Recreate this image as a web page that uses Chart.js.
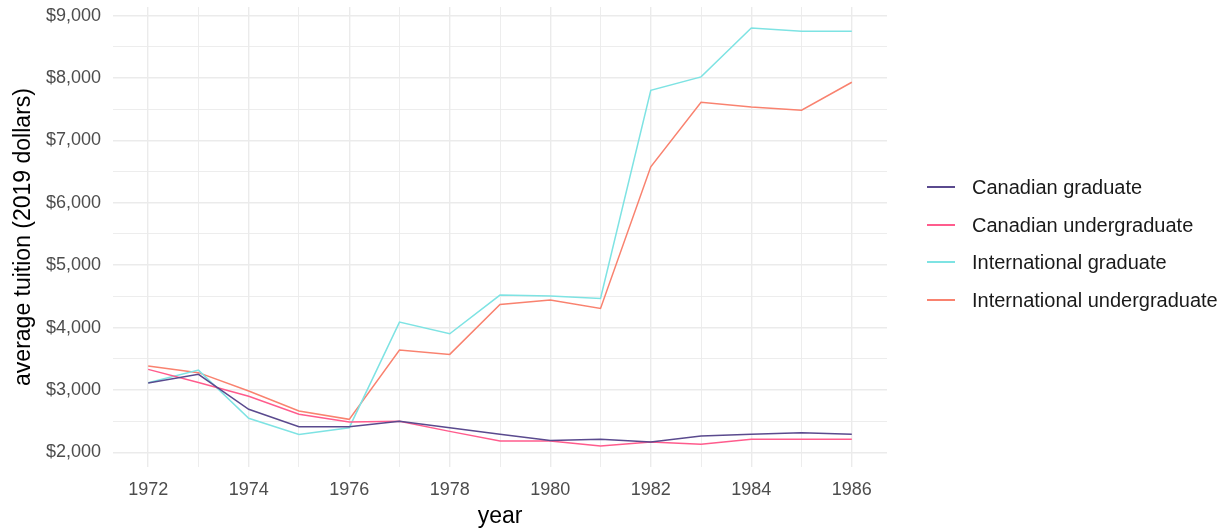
<!DOCTYPE html>
<html>
<head>
<meta charset="utf-8">
<script src="https://cdn.jsdelivr.net/npm/chart.js@4/dist/chart.umd.min.js"></script>
<style>
  html, body { margin: 0; padding: 0; background: #fff; }
  #wrap { position: relative; width: 1230px; height: 531px; }
  #legend { position: absolute; left: 927px; top: 168px; font-family: "Liberation Sans", Arial, sans-serif; font-size: 20px; color: #1a1a1a; }
  .item { position: relative; height: 37.7px; line-height: 38px; white-space: nowrap; }
  .key { position: absolute; left: 0; top: 18px; width: 28px; height: 2px; }
  .lbl { position: absolute; left: 45px; top: 0; }
</style>
</head>
<body>
<div id="wrap">
  <canvas id="c" width="1230" height="531"></canvas>
  <div id="legend"></div>
</div>
<script>
const years = [1972, 1973, 1974, 1975, 1976, 1977, 1978, 1979, 1980, 1981, 1982, 1983, 1984, 1985, 1986];
const seriesNames = ["Canadian graduate", "Canadian undergraduate", "International graduate", "International undergraduate"];
const canadianGraduate = [3110, 3250, 2690, 2410, 2410, 2500, 2395, 2290, 2190, 2210, 2165, 2260, 2290, 2315, 2290];
const canadianUndergraduate = [3330, 3120, 2900, 2610, 2486, 2500, 2336, 2181, 2181, 2101, 2165, 2128, 2208, 2208, 2208];
const internationalGraduate = [3116, 3318, 2545, 2288, 2395, 4087, 3901, 4520, 4504, 4467, 7803, 8018, 8803, 8749, 8749];
const internationalUndergraduate = [3382, 3277, 2982, 2662, 2529, 3639, 3570, 4371, 4440, 4307, 6576, 7611, 7537, 7483, 7932];
const seriesColors = ["#5a4a8e", "#ff5c8d", "#7ee3e3", "#f9826f"];
const xTickValues = [1972, 1974, 1976, 1978, 1980, 1982, 1984, 1986];
const xTickLabels = ["1972", "1974", "1976", "1978", "1980", "1982", "1984", "1986"];
const yTickValues = [2000, 3000, 4000, 5000, 6000, 7000, 8000, 9000];
const yTickLabels = ["$2,000", "$3,000", "$4,000", "$5,000", "$6,000", "$7,000", "$8,000", "$9,000"];

const allSeries = [canadianGraduate, canadianUndergraduate, internationalGraduate, internationalUndergraduate];
const datasets = allSeries.map((vals, i) => ({
  label: seriesNames[i],
  data: years.map((y, j) => ({ x: y, y: vals[j] })),
  borderColor: seriesColors[i],
  backgroundColor: seriesColors[i],
  borderWidth: 1.5,
  pointRadius: 0,
  tension: 0,
  fill: false
}));

// major ticks from the label arrays, minor grid lines halfway between them
function withMinor(major) {
  const out = [];
  const step = major[1] - major[0];
  out.push({ value: major[0] - step / 2, minor: true });
  major.forEach((v, i) => {
    out.push({ value: v, minor: false });
    out.push({ value: v + step / 2, minor: true });
  });
  return out;
}

const font = '"Liberation Sans", Arial, sans-serif';
const gridColor = '#ebebeb';

new Chart(document.getElementById('c'), {
  type: 'line',
  data: { datasets },
  options: {
    responsive: false,
    animation: false,
    devicePixelRatio: 1,
    layout: { padding: { top: 7, right: 343, left: 0, bottom: 0 } },
    plugins: { legend: { display: false }, tooltip: { enabled: false } },
    scales: {
      x: {
        type: 'linear',
        min: 1971.3,
        max: 1986.7,
        afterBuildTicks: s => {
          s.ticks = withMinor(xTickValues).filter(t => t.value >= s.min && t.value <= s.max);
        },
        afterFit: s => { s.height = 64; s.paddingLeft = 0; s.paddingRight = 0; },
        border: { display: false },
        grid: {
          color: gridColor,
          drawTicks: false,
          lineWidth: ctx => (ctx.tick && !ctx.tick.minor) ? 1.4 : 0.9
        },
        ticks: {
          autoSkip: false,
          maxRotation: 0,
          padding: 12,
          color: '#4d4d4d',
          font: { family: font, size: 18 },
          callback: (v) => { const k = xTickValues.indexOf(v); return k >= 0 ? xTickLabels[k] : ''; }
        },
        title: { display: true, text: 'year', color: '#000', font: { family: font, size: 23 }, padding: { top: 0, bottom: 1 } }
      },
      y: {
        min: 1765,
        max: 9138,
        afterBuildTicks: s => {
          s.ticks = withMinor(yTickValues).filter(t => t.value >= s.min && t.value <= s.max);
        },
        afterFit: s => { s.width = 113; s.paddingTop = 0; s.paddingBottom = 0; },
        border: { display: false },
        grid: {
          color: gridColor,
          drawTicks: false,
          lineWidth: ctx => (ctx.tick && !ctx.tick.minor) ? 1.4 : 0.9
        },
        ticks: {
          autoSkip: false,
          padding: 12,
          color: '#4d4d4d',
          font: { family: font, size: 18 },
          callback: (v) => { const k = yTickValues.indexOf(v); return k >= 0 ? yTickLabels[k] : ''; }
        },
        title: { display: true, text: 'average tuition (2019 dollars)', color: '#000', font: { family: font, size: 23 }, padding: { top: 10, bottom: 0 } }
      }
    }
  }
});

const legend = document.getElementById('legend');
seriesNames.forEach((n, i) => {
  const item = document.createElement('div');
  item.className = 'item';
  const key = document.createElement('div');
  key.className = 'key';
  key.style.background = seriesColors[i];
  const lbl = document.createElement('div');
  lbl.className = 'lbl';
  lbl.textContent = n;
  item.appendChild(key);
  item.appendChild(lbl);
  legend.appendChild(item);
});
</script>
</body>
</html>
